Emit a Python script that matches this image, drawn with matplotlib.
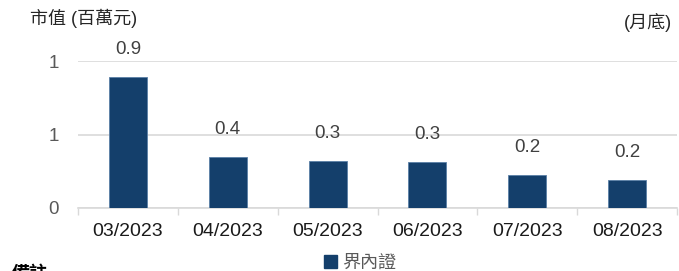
import matplotlib
matplotlib.use("Agg")
import matplotlib.pyplot as plt
from matplotlib.patches import Patch

plt.rcParams['font.family'] = ['Liberation Sans', 'Noto Sans CJK TC', 'DejaVu Sans']

categories = ["03/2023", "04/2023", "05/2023", "06/2023", "07/2023", "08/2023"]
values = [0.893, 0.349, 0.318, 0.313, 0.224, 0.19]
value_labels = ["0.9", "0.4", "0.3", "0.3", "0.2", "0.2"]
y_ticks = [0, 0.5, 1.0]
y_tick_labels = ["0", "1", "1"]
series_name = "界內證"

bar_color = "#143f6b"

fig = plt.figure(figsize=(6.79, 2.71), dpi=100)
ax = fig.add_axes([78/679, 63/271, 599/679, 147/271])

x = range(len(categories))
ax.bar(x, values, width=0.38, color=bar_color, edgecolor="#5a7fa6", linewidth=0.6, zorder=3)
for xi, v, lab in zip(x, values, value_labels):
    ax.text(xi, v + 0.13, lab, ha="center", va="bottom", fontsize=13.5, color="#404040")

ax.set_xlim(-0.5, len(categories) - 0.5)
ax.set_ylim(0, 1.0)
ax.set_yticks(y_ticks)
ax.set_yticklabels(y_tick_labels, fontsize=13.5, color="#595959")
ax.set_xticks(list(x))
ax.set_xticklabels(categories, fontsize=14, color="#1a1a1a")
ax.tick_params(axis="x", length=0, pad=11)
ax.tick_params(axis="y", length=0, pad=14)
# boundary ticks
ax.set_xticks([i - 0.5 for i in range(len(categories) + 1)], minor=True)
ax.tick_params(axis="x", which="minor", length=5, color="#d9d9d9", width=1)

for s in ["top", "right", "left"]:
    ax.spines[s].set_visible(False)
ax.spines["bottom"].set_color("#d9d9d9")
ax.spines["bottom"].set_linewidth(1.2)
ax.yaxis.grid(True, color="#d9d9d9", linewidth=1.2, zorder=0)
ax.set_axisbelow(True)

fig.text(30/679, 1 - 18/271, "市值 (百萬元)", fontsize=13, color="#262626", ha="left", va="center")
fig.text(672/679, 1 - 22/271, "(月底)", fontsize=13, color="#262626", ha="right", va="center")

leg = fig.legend(handles=[Patch(facecolor=bar_color, edgecolor=bar_color, label=series_name)],
                 loc="center", bbox_to_anchor=(360/679, 1 - 263/271), frameon=False,
                 fontsize=13, handlelength=0.7, handleheight=0.7, handletextpad=0.3,
                 labelcolor="#595959", borderaxespad=0, borderpad=0)

fig.text(12/679, 1 - 274/271, "備註", fontsize=13, color="#000000", ha="left", va="center", fontweight="bold")

fig.savefig("out.png", dpi=100)
